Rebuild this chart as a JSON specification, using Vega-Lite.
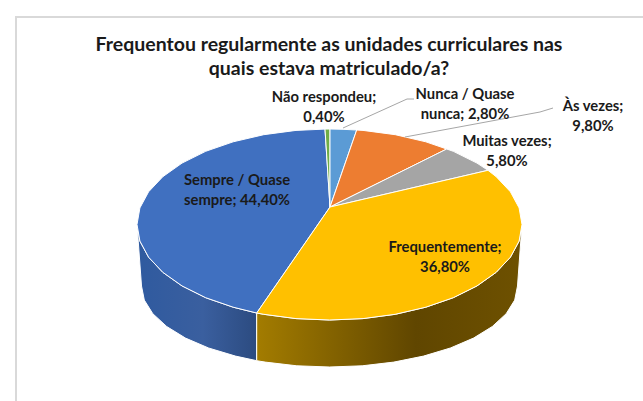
{"$schema":"https://vega.github.io/schema/vega-lite/v6.json","width":643,"height":331,"padding":{"left":0,"right":0,"top":70,"bottom":0},"autosize":"none","background":"white","view":{"stroke":null},
"title":{"text":["Frequentou regularmente as unidades curriculares nas","quais estava matriculado/a?"],"font":"Lato","fontSize":19.5,"fontWeight":"bold","color":"#1a1a1a","anchor":"middle","lineHeight":24,"offset":-66,"dx":7.5,"frame":"group"},
"datasets":{
"frame":[{"s":1,"u":-314,"v":-194},{"s":2,"u":-314,"v":190},{"s":3,"u":313,"v":190}],
"leaders":[{"part":"nunca","s":1,"u":13,"v":79},{"part":"nunca","s":2,"u":77,"v":108},{"part":"nunca","s":3,"u":84,"v":108},{"part":"asvezes","s":1,"u":75,"v":70},{"part":"asvezes","s":2,"u":210,"v":95},{"part":"asvezes","s":3,"u":223,"v":99}],
"sideBlue":[{"s":1,"u":-73.3,"v":-106},{"s":2,"u":-96.8,"v":-100.2},{"s":3,"u":-124.3,"v":-90.7},{"s":4,"u":-148,"v":-78.9},{"s":5,"u":-167.2,"v":-65.3},{"s":6,"u":-181.4,"v":-50.2},{"s":7,"u":-190.1,"v":-34.1},{"s":8,"u":-193,"v":-17.5},{"s":9,"u":-188.5,"v":-79},{"s":10,"u":-185.7,"v":-93.1},{"s":11,"u":-177.2,"v":-106.7},{"s":12,"u":-163.3,"v":-119.5},{"s":13,"u":-144.5,"v":-131.1},{"s":14,"u":-121.4,"v":-141},{"s":15,"u":-94.5,"v":-149.1},{"s":16,"u":-73.3,"v":-153.7},{"s":17,"u":-73.3,"v":-106}],
"sideYellow":[{"s":1,"u":-73.3,"v":-106},{"s":2,"u":-66.3,"v":-107.3},{"s":3,"u":-34,"v":-111.6},{"s":4,"u":-0.5,"v":-113},{"s":5,"u":33,"v":-111.6},{"s":6,"u":65.3,"v":-107.3},{"s":7,"u":95.8,"v":-100.2},{"s":8,"u":123.3,"v":-90.7},{"s":9,"u":147,"v":-78.9},{"s":10,"u":166.2,"v":-65.3},{"s":11,"u":180.4,"v":-50.2},{"s":12,"u":189.1,"v":-34.1},{"s":13,"u":192,"v":-17.5},{"s":14,"u":187.5,"v":-79},{"s":15,"u":184.7,"v":-93.1},{"s":16,"u":176.2,"v":-106.7},{"s":17,"u":162.3,"v":-119.5},{"s":18,"u":143.5,"v":-131.1},{"s":19,"u":120.4,"v":-141},{"s":20,"u":93.5,"v":-149.1},{"s":21,"u":63.8,"v":-155.1},{"s":22,"u":32.2,"v":-158.8},{"s":23,"u":-0.5,"v":-160},{"s":24,"u":-33.2,"v":-158.8},{"s":25,"u":-64.8,"v":-155.1},{"s":26,"u":-73.3,"v":-153.7},{"s":27,"u":-73.3,"v":-106}],
"top":[
{"part":"Sempre / Quase sempre","s":1,"u":0,"v":0},{"part":"Sempre / Quase sempre","s":2,"u":-73.3,"v":-106},{"part":"Sempre / Quase sempre","s":3,"u":-96.8,"v":-100.2},{"part":"Sempre / Quase sempre","s":4,"u":-124.3,"v":-90.7},{"part":"Sempre / Quase sempre","s":5,"u":-148,"v":-78.9},{"part":"Sempre / Quase sempre","s":6,"u":-167.2,"v":-65.3},{"part":"Sempre / Quase sempre","s":7,"u":-181.4,"v":-50.2},{"part":"Sempre / Quase sempre","s":8,"u":-190.1,"v":-34.1},{"part":"Sempre / Quase sempre","s":9,"u":-193,"v":-17.5},{"part":"Sempre / Quase sempre","s":10,"u":-190.1,"v":-0.9},{"part":"Sempre / Quase sempre","s":11,"u":-181.4,"v":15.2},{"part":"Sempre / Quase sempre","s":12,"u":-167.2,"v":30.3},{"part":"Sempre / Quase sempre","s":13,"u":-148,"v":43.9},{"part":"Sempre / Quase sempre","s":14,"u":-124.3,"v":55.7},{"part":"Sempre / Quase sempre","s":15,"u":-96.8,"v":65.2},{"part":"Sempre / Quase sempre","s":16,"u":-66.3,"v":72.3},{"part":"Sempre / Quase sempre","s":17,"u":-34,"v":76.6},{"part":"Sempre / Quase sempre","s":18,"u":-5,"v":77.9},{"part":"Sempre / Quase sempre","s":19,"u":0,"v":0},
{"part":"Não respondeu","s":1,"u":0,"v":0},{"part":"Não respondeu","s":2,"u":-5,"v":77.9},{"part":"Não respondeu","s":3,"u":0,"v":78},{"part":"Não respondeu","s":4,"u":0,"v":0},
{"part":"Nunca / Quase nunca","s":1,"u":0,"v":0},{"part":"Nunca / Quase nunca","s":2,"u":0,"v":78},{"part":"Nunca / Quase nunca","s":3,"u":13,"v":77.7},{"part":"Nunca / Quase nunca","s":4,"u":26.7,"v":77},{"part":"Nunca / Quase nunca","s":5,"u":0,"v":0},
{"part":"Às vezes","s":1,"u":0,"v":0},{"part":"Às vezes","s":2,"u":26.7,"v":77},{"part":"Às vezes","s":3,"u":33,"v":76.6},{"part":"Às vezes","s":4,"u":65.3,"v":72.3},{"part":"Às vezes","s":5,"u":95.8,"v":65.2},{"part":"Às vezes","s":6,"u":116.7,"v":58},{"part":"Às vezes","s":7,"u":0,"v":0},
{"part":"Muitas vezes","s":1,"u":0,"v":0},{"part":"Muitas vezes","s":2,"u":116.7,"v":58},{"part":"Muitas vezes","s":3,"u":123.3,"v":55.7},{"part":"Muitas vezes","s":4,"u":147,"v":43.9},{"part":"Muitas vezes","s":5,"u":158,"v":36.7},{"part":"Muitas vezes","s":6,"u":0,"v":0},
{"part":"Frequentemente","s":1,"u":0,"v":0},{"part":"Frequentemente","s":2,"u":158,"v":36.7},{"part":"Frequentemente","s":3,"u":166.2,"v":30.3},{"part":"Frequentemente","s":4,"u":180.4,"v":15.2},{"part":"Frequentemente","s":5,"u":189.1,"v":-0.9},{"part":"Frequentemente","s":6,"u":192,"v":-17.5},{"part":"Frequentemente","s":7,"u":189.1,"v":-34.1},{"part":"Frequentemente","s":8,"u":180.4,"v":-50.2},{"part":"Frequentemente","s":9,"u":166.2,"v":-65.3},{"part":"Frequentemente","s":10,"u":147,"v":-78.9},{"part":"Frequentemente","s":11,"u":123.3,"v":-90.7},{"part":"Frequentemente","s":12,"u":95.8,"v":-100.2},{"part":"Frequentemente","s":13,"u":65.3,"v":-107.3},{"part":"Frequentemente","s":14,"u":33,"v":-111.6},{"part":"Frequentemente","s":15,"u":-0.5,"v":-113},{"part":"Frequentemente","s":16,"u":-34,"v":-111.6},{"part":"Frequentemente","s":17,"u":-66.3,"v":-107.3},{"part":"Frequentemente","s":18,"u":-73.3,"v":-106},{"part":"Frequentemente","s":19,"u":0,"v":0}],
"labels":[
{"category":"Não respondeu","share":0.4,"label":"Não respondeu;\n0,40%","u":-6,"v":109},
{"category":"Nunca / Quase nunca","share":2.8,"label":"Nunca / Quase\nnunca; 2,80%","u":135,"v":112},
{"category":"Às vezes","share":9.8,"label":"Às vezes;\n9,80%","u":263,"v":100},
{"category":"Muitas vezes","share":5.8,"label":"Muitas vezes;\n5,80%","u":177,"v":65},
{"category":"Sempre / Quase sempre","share":44.4,"label":"Sempre / Quase\nsempre; 44,40%","u":-93,"v":26},
{"category":"Frequentemente","share":36.8,"label":"Frequentemente;\n36,80%","u":115,"v":-41}]
},
"encoding":{
"x":{"field":"u","type":"quantitative","scale":{"domain":[-330,313]},"axis":null},
"y":{"field":"v","type":"quantitative","scale":{"domain":[-194,137]},"axis":null}
},
"layer":[
{"data":{"name":"frame"},"mark":{"type":"line","stroke":"#d9d9d9","strokeWidth":2,"clip":false},"encoding":{"order":{"field":"s"}}},
{"data":{"name":"sideBlue"},"mark":{"type":"line","filled":true,"stroke":"#ffffff","strokeWidth":1,"fill":{"gradient":"linear","x1":0,"x2":1,"y1":0,"y2":0,"stops":[{"offset":0,"color":"#2f5a9f"},{"offset":0.55,"color":"#3a5f9f"},{"offset":1,"color":"#2c4b80"}]}},"encoding":{"order":{"field":"s"}}},
{"data":{"name":"sideYellow"},"mark":{"type":"line","filled":true,"stroke":"#ffffff","strokeWidth":1,"fill":{"gradient":"linear","x1":0,"x2":1,"y1":0,"y2":0,"stops":[{"offset":0,"color":"#a37c00"},{"offset":0.6,"color":"#604600"},{"offset":1,"color":"#6e5100"}]}},"encoding":{"order":{"field":"s"}}},
{"data":{"name":"top"},"mark":{"type":"line","filled":true,"stroke":"#ffffff","strokeWidth":1},"encoding":{"order":{"field":"s"},"color":{"field":"part","type":"nominal","legend":null,"scale":{"domain":["Sempre / Quase sempre","Não respondeu","Nunca / Quase nunca","Às vezes","Muitas vezes","Frequentemente"],"range":["#4070c0","#70ad47","#5b9bd5","#ed7d31","#a5a5a5","#ffc000"]}}}},
{"data":{"name":"leaders"},"mark":{"type":"line","stroke":"#a6a6a6","strokeWidth":1},"encoding":{"order":{"field":"s"},"detail":{"field":"part"}}},
{"data":{"name":"labels"},"mark":{"type":"text","font":"Lato","fontSize":14.8,"fontWeight":"bold","lineBreak":"\n","lineHeight":20,"align":"center","baseline":"middle","color":"#1a1a1a"},"encoding":{"text":{"field":"label"}}}
]}
